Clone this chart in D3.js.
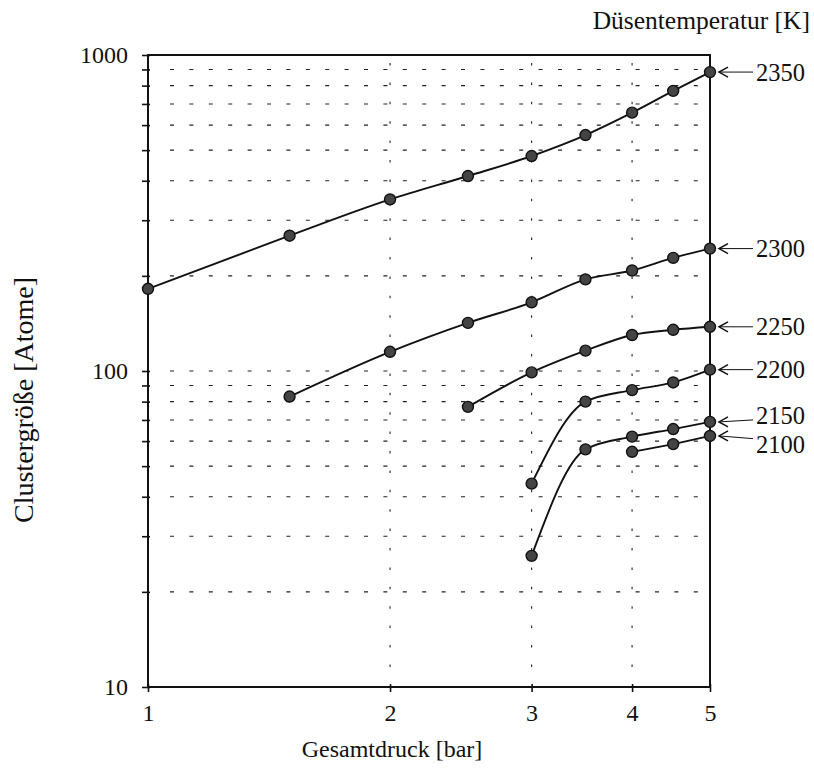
<!DOCTYPE html>
<html>
<head>
<meta charset="utf-8">
<script src="https://cdn.jsdelivr.net/npm/d3@7/dist/d3.min.js"></script>
<style>
  body { margin: 0; background: #fff; }
  svg text { font-family: "Liberation Serif", "DejaVu Serif", serif; fill: #111; }
</style>
</head>
<body>
<div id="zone"></div>
<script>
(function() {
  "use strict";

  // Gesamtdruck [bar] (x-Werte, logarithmisch)
  var druck = [1, 1.5, 2, 2.5, 3, 3.5, 4, 4.5, 5];

  // Düsentemperaturen [K] der Kurven
  var temperaturen = [2350, 2300, 2250, 2200, 2150, 2100];

  // Clustergröße [Atome] je Temperatur, null = kein Messpunkt
  var gr2350 = [182, 268, 349, 414, 479, 558, 657, 770, 883];
  var gr2300 = [null, 83, 115, 142, 165, 195, 208, 228, 244];
  var gr2250 = [null, null, null, 77, 99, 116, 130, 135, 138];
  var gr2200 = [null, null, null, null, 44, 80, 87, 92, 101];
  var gr2150 = [null, null, null, null, 26, 56.5, 62, 65.5, 69];
  var gr2100 = [null, null, null, null, null, null, 55.5, 58.7, 62.3];

  var reihen = [gr2350, gr2300, gr2250, gr2200, gr2150, gr2100];

  // Achsenbeschriftung
  var xTicks = [1, 2, 3, 4, 5];
  var yTicksMajor = [10, 100, 1000];

  var width = 814, height = 771;
  var left = 148, right = 710, top = 55, bottom = 687;

  var svg = d3.select("#zone").append("svg")
    .attr("width", width)
    .attr("height", height);

  var x = d3.scaleLog().domain([1, 5]).range([left, right]);
  var y = d3.scaleLog().domain([10, 1000]).range([bottom, top]);

  // alle Teilstriche 10..90, 100..900, 1000
  var yTicksAll = [];
  yTicksMajor.forEach(function(d, i) {
    if (i === yTicksMajor.length - 1) { yTicksAll.push(d); return; }
    for (var k = 1; k < 10; k++) yTicksAll.push(d * k);
  });

  //////// Gitter ////////
  var grid = svg.append("g").attr("class", "grid");

  grid.selectAll("line.h")
    .data(yTicksAll.filter(function(d) { return d !== 10 && d !== 1000; }))
    .enter().append("line")
    .attr("class", "h")
    .attr("x1", x(1) + 22)
    .attr("x2", x(5) - 4)
    .attr("y1", function(d) { return y(d); })
    .attr("y2", function(d) { return y(d); })
    .attr("stroke", "#222")
    .attr("stroke-width", 1.1)
    .attr("stroke-dasharray", "4,15.4");

  grid.selectAll("line.v")
    .data(xTicks.filter(function(d) { return d !== 1 && d !== 5; }))
    .enter().append("line")
    .attr("class", "v")
    .attr("x1", function(d) { return x(d); })
    .attr("x2", function(d) { return x(d); })
    .attr("y1", top + 8)
    .attr("y2", bottom - 4)
    .attr("stroke", "#222")
    .attr("stroke-width", 1.1)
    .attr("stroke-dasharray", "2.5,16.9");

  //////// Achsen ////////
  var yAxis = d3.axisLeft(y)
    .tickValues(yTicksAll)
    .tickSize(6)
    .tickPadding(14)
    .tickFormat(function(d) { return yTicksMajor.indexOf(d) >= 0 ? d : ""; });

  var gy = svg.append("g")
    .attr("transform", "translate(" + left + ",0)")
    .call(yAxis);

  var xAxis = d3.axisBottom(x)
    .tickValues(xTicks)
    .tickSize(5)
    .tickPadding(12)
    .tickFormat(d3.format("d"));

  var gx = svg.append("g")
    .attr("transform", "translate(0," + bottom + ")")
    .call(xAxis);

  [gx, gy].forEach(function(g) {
    g.select(".domain").remove();
    g.selectAll(".tick line").attr("stroke", "#111").attr("stroke-width", 1.6);
    g.selectAll(".tick text")
      .attr("font-family", "Liberation Serif")
      .attr("font-size", 24)
      .attr("fill", "#111");
  });
  gy.selectAll(".tick line").attr("x2", -6).attr("x1", 2);
  gx.selectAll(".tick line").attr("y1", -3).attr("y2", 5);

  // Rahmen
  svg.append("rect")
    .attr("x", left).attr("y", top)
    .attr("width", right - left).attr("height", bottom - top)
    .attr("fill", "none")
    .attr("stroke", "#111")
    .attr("stroke-width", 2);

  //////// Kurven ////////
  var linie = d3.line()
    .defined(function(d) { return d[1] !== null; })
    .x(function(d) { return x(d[0]); })
    .y(function(d) { return y(d[1]); })
    .curve(d3.curveMonotoneX);

  var kurven = svg.append("g").attr("class", "kurven");

  reihen.forEach(function(werte, i) {
    var punkte = druck.map(function(p, j) { return [p, werte[j]]; })
      .filter(function(d) { return d[1] !== null; });

    kurven.append("path")
      .datum(punkte)
      .attr("d", linie)
      .attr("fill", "none")
      .attr("stroke", "#111")
      .attr("stroke-width", 1.9);

    kurven.selectAll("circle.s" + i)
      .data(punkte)
      .enter().append("circle")
      .attr("class", "s" + i)
      .attr("cx", function(d) { return x(d[0]); })
      .attr("cy", function(d) { return y(d[1]); })
      .attr("r", 5.5)
      .attr("fill", "#444")
      .attr("stroke", "#111")
      .attr("stroke-width", 1.4);
  });

  //////// Temperatur-Beschriftung mit Pfeilen ////////
  var versatz = { 2150: -6, 2100: 8 }; // Textversatz, damit 2150/2100 nicht überlappen

  temperaturen.forEach(function(t, i) {
    var werte = reihen[i];
    var letzter = werte[werte.length - 1];
    var py = y(letzter);
    var spitze = right + 9;
    var ende = right + 43;

    svg.append("line")
      .attr("x1", spitze).attr("x2", ende)
      .attr("y1", py).attr("y2", py + (versatz[t] || 0) / 3)
      .attr("stroke", "#111")
      .attr("stroke-width", 1);

    svg.append("path")
      .attr("d", "M" + (spitze + 9) + "," + (py - 5) + " L" + spitze + "," + py + " L" + (spitze + 9) + "," + (py + 5))
      .attr("fill", "none")
      .attr("stroke", "#111")
      .attr("stroke-width", 1.5);

    svg.append("text")
      .attr("x", ende + 3)
      .attr("y", py + (versatz[t] || 0))
      .attr("dy", "0.35em")
      .attr("font-size", 24.5)
      .text(t);
  });

  //////// Titel ////////
  svg.append("text")
    .attr("x", 810)
    .attr("y", 29)
    .attr("text-anchor", "end")
    .attr("font-size", 25.5)
    .text("Düsentemperatur [K]");

  svg.append("text")
    .attr("x", 392)
    .attr("y", 757)
    .attr("text-anchor", "middle")
    .attr("font-size", 24)
    .text("Gesamtdruck [bar]");

  svg.append("text")
    .attr("transform", "translate(33,400) rotate(-90)")
    .attr("text-anchor", "middle")
    .attr("font-size", 28)
    .text("Clustergröße [Atome]");

})();
</script>
</body>
</html>
